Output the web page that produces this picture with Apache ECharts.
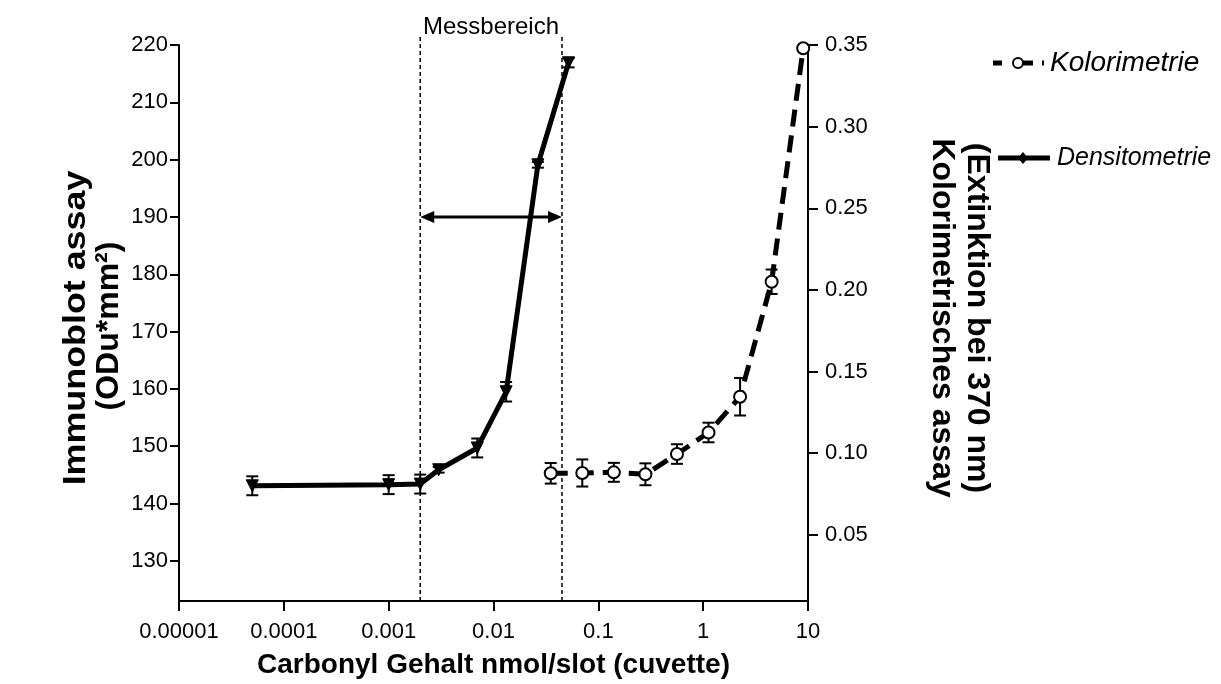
<!DOCTYPE html>
<html>
<head>
<meta charset="utf-8">
<script src="https://cdn.jsdelivr.net/npm/echarts@6/dist/echarts.min.js"></script>
<style>html,body{margin:0;padding:0;background:#fff;}#c{width:1221px;height:684px;}</style>
</head>
<body>
<div id="c"></div>
<script>
// ---- data ----
const xTickValues = [0.00001, 0.0001, 0.001, 0.01, 0.1, 1, 10];
const xTickLabels = ['0.00001', '0.0001', '0.001', '0.01', '0.1', '1', '10'];
const leftTicks = [130, 140, 150, 160, 170, 180, 190, 200, 210, 220];
const rightTicks = [0.05, 0.10, 0.15, 0.20, 0.25, 0.30, 0.35];
const rightTickLabels = ['0.05', '0.10', '0.15', '0.20', '0.25', '0.30', '0.35'];
const leftRange = [123, 220];
const rightRange = [0.0095, 0.35];

const densX = [0.00005, 0.001, 0.002, 0.003, 0.007, 0.0132, 0.0265, 0.052];
const densY = [143.1, 143.3, 143.4, 145.9, 149.7, 159.5, 199.1, 216.9];
const densErr = [1.65, 1.65, 1.65, 0.5, 1.65, 1.7, 0.5, 0.8];

const kolX = [0.03516, 0.0703, 0.1406, 0.28125, 0.5625, 1.125, 2.25, 4.5, 9];
const kolY = [0.0877, 0.0879, 0.0883, 0.0871, 0.0995, 0.1127, 0.1346, 0.205, 0.348];
const kolErr = [0.0063, 0.0083, 0.0058, 0.0067, 0.006, 0.006, 0.0115, 0.0075, 0.001];

const messbereich = [0.002, 0.045];
const arrowLevel = 190;

const FONT = '"Liberation Sans", Arial, sans-serif';

// ---- build ----
const densData = densX.map((x, i) => [x, densY[i]]);
const kolData = kolX.map((x, i) => [x, kolY[i]]);
const densErrData = densX.map((x, i) => [x, densY[i], densErr[i]]);
const kolErrData = kolX.map((x, i) => [x, kolY[i], kolErr[i]]);

function errRender(params, api) {
  const x = api.value(0), y = api.value(1), e = api.value(2);
  const t = api.coord([x, y + e]);
  const b = api.coord([x, y - e]);
  const hw = 6;
  const st = { stroke: '#000', lineWidth: 2 };
  return {
    type: 'group',
    children: [
      { type: 'line', shape: { x1: t[0], y1: t[1], x2: b[0], y2: b[1] }, style: st },
      { type: 'line', shape: { x1: t[0] - hw, y1: t[1], x2: t[0] + hw, y2: t[1] }, style: st },
      { type: 'line', shape: { x1: b[0] - hw, y1: b[1], x2: b[0] + hw, y2: b[1] }, style: st }
    ]
  };
}

function vlineRender(params, api) {
  const p = api.coord([api.value(0), leftRange[0]]);
  const cs = params.coordSys;
  return {
    type: 'line',
    shape: { x1: p[0], y1: cs.y - 8, x2: p[0], y2: cs.y + cs.height },
    style: { stroke: '#000', lineWidth: 1.5, lineDash: [4, 3] }
  };
}

function arrowRender(params, api) {
  const l = api.coord([api.value(0), api.value(2)]);
  const r = api.coord([api.value(1), api.value(2)]);
  const hl = 14, hh = 6;
  const y = l[1];
  return {
    type: 'group',
    children: [
      { type: 'line', shape: { x1: l[0] + hl - 2, y1: y, x2: r[0] - hl + 2, y2: y }, style: { stroke: '#000', lineWidth: 3 } },
      { type: 'polygon', shape: { points: [[l[0], y], [l[0] + hl, y - hh], [l[0] + hl, y + hh]] }, style: { fill: '#000' } },
      { type: 'polygon', shape: { points: [[r[0], y], [r[0] - hl, y - hh], [r[0] - hl, y + hh]] }, style: { fill: '#000' } }
    ]
  };
}

function txt(x, y, text, size, opts) {
  return Object.assign({
    type: 'text', x: x, y: y,
    style: Object.assign({
      text: text, fill: '#000', fontSize: size, fontFamily: FONT,
      align: 'center', verticalAlign: 'middle',
      textAlign: 'center', textVerticalAlign: 'middle'
    }, (opts && opts.style) || {})
  }, (opts && opts.el) || {});
}

const chart = echarts.init(document.getElementById('c'), null, { renderer: 'canvas' });
chart.setOption({
  animation: false,
  backgroundColor: '#fff',
  grid: { left: 179, right: 413, top: 45, bottom: 83, containLabel: false, outerBoundsMode: 'none' },
  xAxis: {
    type: 'log', logBase: 10, min: xTickValues[0], max: xTickValues[xTickValues.length - 1],
    name: 'Carbonyl Gehalt nmol/slot (cuvette)', nameLocation: 'middle', nameGap: 50,
    nameTextStyle: { fontSize: 28, fontWeight: 'bold', fontFamily: FONT, color: '#000' },
    axisLine: { lineStyle: { color: '#000', width: 2 } },
    axisTick: { show: true, inside: false, length: 10, lineStyle: { color: '#000', width: 2 } },
    minorTick: { show: false },
    splitLine: { show: false },
    axisLabel: {
      interval: 0, margin: 20, color: '#000', fontSize: 22, fontFamily: FONT,
      formatter: function (v) {
        for (let i = 0; i < xTickValues.length; i++) {
          if (Math.abs(Math.log10(v) - Math.log10(xTickValues[i])) < 1e-6) return xTickLabels[i];
        }
        return '';
      }
    }
  },
  yAxis: [
    {
      type: 'value', position: 'left', min: leftRange[0], max: leftRange[1],
      axisLine: { show: true, lineStyle: { color: '#000', width: 2 } },
      axisTick: { show: true, length: 9, customValues: leftTicks, lineStyle: { color: '#000', width: 2 } },
      splitLine: { show: false },
      axisLabel: { customValues: leftTicks, margin: 11, color: '#000', fontSize: 22, fontFamily: FONT }
    },
    {
      type: 'value', position: 'right', min: rightRange[0], max: rightRange[1],
      axisLine: { show: true, lineStyle: { color: '#000', width: 2 } },
      axisTick: { show: true, length: 10, customValues: rightTicks, lineStyle: { color: '#000', width: 2 } },
      splitLine: { show: false },
      axisLabel: {
        customValues: rightTicks, margin: 17, color: '#000', fontSize: 22, fontFamily: FONT,
        formatter: function (v) {
          for (let i = 0; i < rightTicks.length; i++) {
            if (Math.abs(v - rightTicks[i]) < 1e-9) return rightTickLabels[i];
          }
          return v.toFixed(2);
        }
      }
    }
  ],
  series: [
    {
      type: 'custom', name: 'mb', renderItem: vlineRender, clip: false, silent: true, z: 1,
      encode: { x: 0 }, data: messbereich.map(v => [v])
    },
    {
      type: 'custom', name: 'arrow', renderItem: arrowRender, silent: true, z: 1,
      encode: { x: [0, 1], y: 2 }, data: [[messbereich[0], messbereich[1], arrowLevel]]
    },
    {
      type: 'custom', name: 'densErr', renderItem: errRender, yAxisIndex: 0, z: 2,
      encode: { x: 0, y: 1 }, data: densErrData
    },
    {
      type: 'custom', name: 'kolErr', renderItem: errRender, yAxisIndex: 1, z: 2,
      encode: { x: 0, y: 1 }, data: kolErrData
    },
    {
      type: 'line', name: 'Densitometrie', yAxisIndex: 0, z: 3, data: densData,
      lineStyle: { color: '#000', width: 5 },
      symbol: 'triangle', symbolRotate: 180, symbolSize: 12, showSymbol: true,
      itemStyle: { color: '#000', borderColor: '#000' }
    },
    {
      type: 'line', name: 'Kolorimetrie', yAxisIndex: 1, z: 3, data: kolData,
      lineStyle: { color: '#000', width: 5, type: [17, 9] },
      symbol: 'circle', symbolSize: 12, showSymbol: true,
      itemStyle: { color: '#fff', borderColor: '#000', borderWidth: 2 }
    }
  ],
  graphic: [
    txt(491, 27, 'Messbereich', 24),
    txt(76, 328, 'Immunoblot assay', 32, { style: { fontWeight: 'bold' }, el: { rotation: Math.PI / 2, scaleX: 1.12 } }),
    txt(109, 326, '(ODu*mm²)', 32, { style: { fontWeight: 'bold' }, el: { rotation: Math.PI / 2 } }),
    txt(942, 318, 'Kolorimetrisches assay', 32, { style: { fontWeight: 'bold' }, el: { rotation: -Math.PI / 2 } }),
    txt(977, 318, '(Extinktion bei 370 nm)', 32, { style: { fontWeight: 'bold' }, el: { rotation: -Math.PI / 2 } }),
    // legend: Kolorimetrie
    { type: 'line', shape: { x1: 993, y1: 63, x2: 1002, y2: 63 }, style: { stroke: '#000', lineWidth: 5 } },
    { type: 'line', shape: { x1: 1013, y1: 63, x2: 1033, y2: 63 }, style: { stroke: '#000', lineWidth: 5 } },
    { type: 'line', shape: { x1: 1042, y1: 63, x2: 1044, y2: 63 }, style: { stroke: '#000', lineWidth: 5 } },
    { type: 'circle', shape: { cx: 1018, cy: 63, r: 5 }, style: { fill: '#fff', stroke: '#000', lineWidth: 2 } },
    txt(1050, 63, 'Kolorimetrie', 28, { style: { fontStyle: 'italic', align: 'left', textAlign: 'left' } }),
    // legend: Densitometrie
    { type: 'line', shape: { x1: 998, y1: 158, x2: 1050, y2: 158 }, style: { stroke: '#000', lineWidth: 5 } },
    { type: 'polygon', shape: { points: [[1023, 152], [1028, 158], [1023, 164], [1018, 158]] }, style: { fill: '#000' } },
    txt(1057, 158, 'Densitometrie', 25, { style: { fontStyle: 'italic', align: 'left', textAlign: 'left' } })
  ]
});
</script>
</body>
</html>
